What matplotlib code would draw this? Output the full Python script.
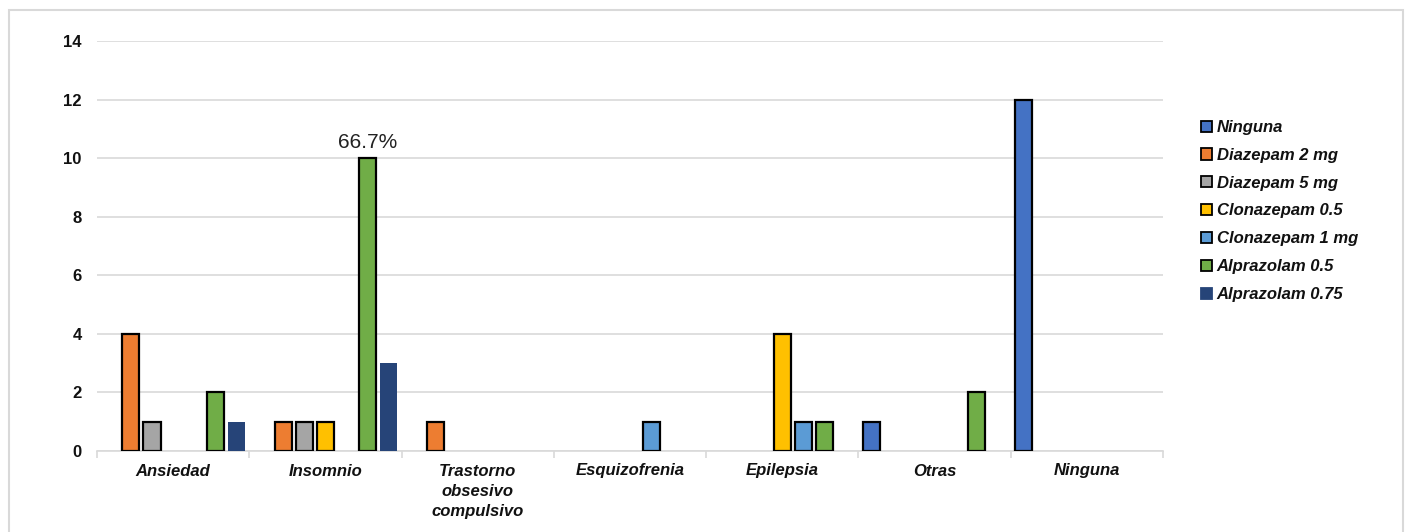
import matplotlib
matplotlib.use("Agg")
import matplotlib.pyplot as plt
import numpy as np
from matplotlib.patches import Rectangle, Patch

plt.rcParams['font.family'] = ['Liberation Sans', 'DejaVu Sans']

categories = ["Ansiedad", "Insomnio", "Trastorno\nobsesivo\ncompulsivo",
              "Esquizofrenia", "Epilepsia", "Otras", "Ninguna"]
series_names = ["Ninguna", "Diazepam 2 mg", "Diazepam 5 mg", "Clonazepam 0.5",
                "Clonazepam 1 mg", "Alprazolam 0.5", "Alprazolam 0.75"]
ninguna = [0, 0, 0, 0, 0, 1, 12]
diazepam_2 = [4, 1, 1, 0, 0, 0, 0]
diazepam_5 = [1, 1, 0, 0, 0, 0, 0]
clonazepam_05 = [0, 1, 0, 0, 4, 0, 0]
clonazepam_1 = [0, 0, 0, 1, 1, 0, 0]
alprazolam_05 = [2, 10, 0, 0, 1, 2, 0]
alprazolam_075 = [1, 3, 0, 0, 0, 0, 0]
series_values = [ninguna, diazepam_2, diazepam_5, clonazepam_05,
                 clonazepam_1, alprazolam_05, alprazolam_075]
colors = ["#4472C4", "#ED7D31", "#A5A5A5", "#FFC000", "#5B9BD5", "#70AD47", "#264478"]
edges = ["black"] * 6 + ["none"]
annot_label = "66.7%"
annot_cat, annot_series = 1, 5

W, H = 1405, 532
fig = plt.figure(figsize=(W / 100, H / 100), dpi=100)
ax = fig.add_axes([97 / W, 1 - 451 / H, (1163 - 97) / W, (451 - 41) / H])

x = np.arange(len(categories))
pitch = 0.139
width = 0.112
n = len(series_values)
for i, (vals, c, e, name) in enumerate(zip(series_values, colors, edges, series_names)):
    offs = (i - (n - 1) / 2) * pitch
    v = np.asarray(vals, dtype=float)
    keep = v > 0  # empty slots are left blank, no outline on the baseline
    ax.bar(x[keep] + offs, v[keep], width=width, color=c, edgecolor=e,
           linewidth=1.6 if e != "none" else 0, label=name, zorder=3)

# value annotation above the tallest Alprazolam bar
offs = (annot_series - (n - 1) / 2) * pitch
ax.text(x[annot_cat] + offs, series_values[annot_series][annot_cat] + 0.2,
        annot_label, ha="center", va="bottom", fontsize=15, color="#222222")

ax.set_xlim(-0.5, len(categories) - 0.5)
ax.set_ylim(0, 14)
ax.set_yticks(range(0, 15, 2))
ax.yaxis.grid(True, color="#D9D9D9", linewidth=1.2, zorder=0)
ax.set_axisbelow(True)
for s in ["top", "right", "left"]:
    ax.spines[s].set_visible(False)
ax.spines["bottom"].set_color("#D9D9D9")
ax.spines["bottom"].set_linewidth(1.2)
ax.tick_params(axis="y", length=0, pad=11, labelsize=12)
for t in ax.get_yticklabels():
    t.set_fontweight("bold")
    t.set_color("#111111")

ax.set_xticks(x)
ax.set_xticklabels(categories, fontsize=12, fontweight="bold", style="italic",
                   linespacing=1.42, color="#111111")
ax.tick_params(axis="x", length=0, pad=9)
ax.set_xticks(np.arange(-0.5, len(categories)), minor=True)
ax.tick_params(axis="x", which="minor", length=5, color="#D9D9D9", width=1.2)

handles = [Patch(facecolor=c, edgecolor=("black" if e != "none" else c), linewidth=1.3)
           for c, e in zip(colors, edges)]
leg = fig.legend(handles, series_names, loc="upper left",
                 bbox_to_anchor=(1186 / W, 1 - 105 / H), frameon=False,
                 prop={"size": 12, "weight": "bold", "style": "italic"},
                 handlelength=0.65, handleheight=0.65, handletextpad=0.3,
                 labelspacing=0.77)
for t in leg.get_texts():
    t.set_color("#111111")

fig.patches.append(Rectangle((8.5 / W, -0.05), (1403 - 8.5) / W, 1.05 - 9.5 / H,
                             transform=fig.transFigure, fill=False,
                             edgecolor="#D9D9D9", linewidth=1.5))

fig.savefig("out.png", dpi=100)
